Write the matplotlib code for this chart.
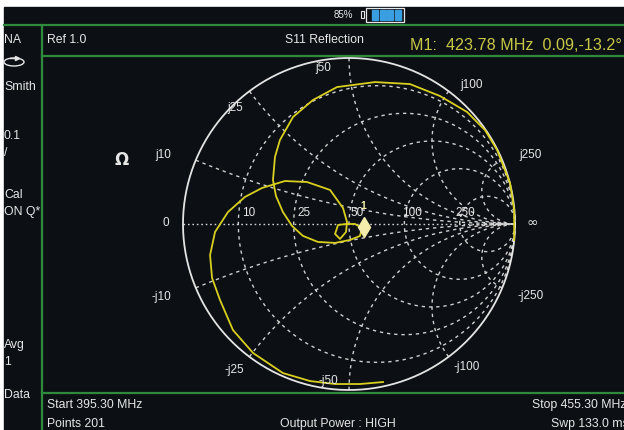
import numpy as np
import matplotlib
matplotlib.use("Agg")
import matplotlib.pyplot as plt
from matplotlib.patches import Rectangle, Ellipse

# ---------------- data ----------------
# S11 trace, reflection coefficient (real, imag) read from the screen
trace_re = [0.205, 0.066, -0.084, -0.235, -0.398, -0.578, -0.699, -0.777, -0.825, -0.837,
            -0.807, -0.729, -0.627, -0.524, -0.386, -0.253, -0.114, -0.036, -0.012,
            -0.018, -0.054, -0.084, -0.066, -0.018, 0.036, 0.078, 0.066, 0.006, -0.084,
            -0.187, -0.277, -0.343, -0.398, -0.440, -0.458, -0.446, -0.416, -0.337, -0.217,
            -0.072, 0.157, 0.367, 0.548, 0.711, 0.819, 0.892, 0.970, 0.995, 0.995]
trace_im = [-0.952, -0.964, -0.964, -0.946, -0.898, -0.777, -0.639, -0.458, -0.325, -0.187,
            -0.048, 0.072, 0.163, 0.217, 0.259, 0.253, 0.205, 0.096, 0.012,
            -0.048, -0.090, -0.060, -0.006, 0.000, 0.000, -0.024, -0.072, -0.096, -0.114,
            -0.108, -0.072, -0.012, 0.072, 0.169, 0.265, 0.404, 0.506, 0.645, 0.747,
            0.825, 0.855, 0.843, 0.771, 0.675, 0.566, 0.446, 0.247, 0.084, -0.096]
marker_mag = 0.09
marker_deg = -13.2
z0 = 50
grid_ohms = [10, 25, 50, 100, 250]
res_labels = ["10", "25", "50", "100", "250"]
react_labels_pos = ["j10", "j25", "j50", "j100", "j250"]
react_labels_neg = ["-j10", "-j25", "-j50", "-j100", "-j250"]
left_panel = ["NA", "Smith", "0.1", "/", "Cal", "ON Q*", "Avg", "1", "Data"]

# ---------------- style ----------------
BG = "#0c1015"
GREEN = "#2f8a3c"
TXT = "#e6e6e6"
GRID = "#cfcfcf"
YEL = "#d9cf1e"
M1C = "#c9c845"
FONT = ["Liberation Sans", "DejaVu Sans"]
plt.rcParams["font.family"] = FONT
FS = 8.8

W, H = 624, 430
fig = plt.figure(figsize=(W / 100, H / 100), dpi=100)
fig.patch.set_facecolor("white")

# pixel-coordinate background axes
bg = fig.add_axes([0, 0, 1, 1])
bg.set_xlim(0, W)
bg.set_ylim(H, 0)
bg.axis("off")
bg.add_patch(Rectangle((4, 7), W, H, color=BG, zorder=0))
# frame lines
bg.plot([4, W], [25, 25], color=GREEN, lw=1.6)
bg.plot([42, 42], [25, H], color=GREEN, lw=1.6)
bg.plot([42, W], [56, 56], color=GREEN, lw=1.6)
bg.plot([42, W], [393, 393], color=GREEN, lw=1.6)

# status bar
bg.text(353, 15, "85%", color=TXT, fontsize=7, ha="right", va="center")
bg.add_patch(Rectangle((361, 11), 3, 7, facecolor="none", edgecolor=TXT, lw=0.8))
bg.add_patch(Rectangle((366, 8), 38, 14, facecolor="none", edgecolor=TXT, lw=0.9))
for i in range(4):
    bg.add_patch(Rectangle((372 + i * 7.5, 10), 6, 10, color="#3a9fe0"))

# header
bg.text(47, 40, "Ref 1.0", color=TXT, fontsize=FS, ha="left", va="center")
bg.text(324, 40, "S11 Reflection", color=TXT, fontsize=FS, ha="center", va="center")
bg.text(622, 46, "M1:  423.78 MHz  0.09,-13.2°", color=M1C, fontsize=11.6,
        ha="right", va="center")

# left panel
left_y = [40, 87, 136, 153, 195, 212, 345, 362, 395]
for s, y in zip(left_panel, left_y):
    bg.text(4, y, s, color=TXT, fontsize=FS, ha="left", va="center")
bg.add_patch(Ellipse((14, 62), 20, 8, facecolor="none", edgecolor=TXT, lw=1.0))
bg.plot([10, 17], [58, 58], color=TXT, lw=1.0)
bg.plot([17], [58], marker=">", color=TXT, ms=3)

# footer
bg.text(47, 405, "Start 395.30 MHz", color=TXT, fontsize=FS, ha="left", va="center")
bg.text(47, 424, "Points 201", color=TXT, fontsize=FS, ha="left", va="center")
bg.text(338, 424, "Output Power : HIGH", color=TXT, fontsize=FS, ha="center", va="center")
bg.text(627, 405, "Stop 455.30 MHz", color=TXT, fontsize=FS, ha="right", va="center")
bg.text(629, 424, "Swp 133.0 ms", color=TXT, fontsize=FS, ha="right", va="center")
bg.text(122, 160, "Ω", color=TXT, fontsize=12, fontweight="bold", ha="center", va="center",
        family=["DejaVu Sans"])

# ---------------- Smith chart axes ----------------
CX, CY, R = 349, 224, 166
ax = fig.add_axes([0, 0, 1, 1])
ax.patch.set_alpha(0)
ax.set_xlim(-CX / R, (W - CX) / R)
ax.set_ylim((CY - H) / R, CY / R)
ax.axis("off")

dash = (0, (2.4, 2.8))
th = np.linspace(-np.pi / 2 + 1e-3, np.pi / 2 - 1e-3, 800)
for ohm in grid_ohms:
    r = ohm / z0
    z = r + 1j * np.tan(th) * 3
    g = (z - 1) / (z + 1)
    ax.plot(g.real, g.imag, color=GRID, lw=1.0, ls=dash)
    for s in (1, -1):
        x = s * ohm / z0
        rr = np.tan(np.linspace(0, np.pi / 2 - 1e-3, 800)) ** 1.5
        z = rr + 1j * x
        g = (z - 1) / (z + 1)
        ax.plot(g.real, g.imag, color=GRID, lw=1.0, ls=dash)
ax.plot([-1, 1], [0, 0], color=GRID, lw=1.0, ls=(0, (1.2, 2.0)))
t = np.linspace(0, 2 * np.pi, 600)
ax.plot(np.cos(t), np.sin(t), color="#e4e4e4", lw=1.3)

# grid labels
def px(x, y):
    return (x - CX) / R, (CY - y) / R

lab_kw = dict(color=TXT, fontsize=8.5, ha="center", va="center")
for s, (x, y) in zip(react_labels_pos, [(163, 155), (235, 108), (323, 68), (472, 85), (531, 155)]):
    ax.text(*px(x, y), s, **lab_kw)
for s, (x, y) in zip(react_labels_neg, [(161, 297), (234, 370), (328, 381), (467, 367), (531, 296)]):
    ax.text(*px(x, y), s, **lab_kw)
for s, (x, y) in zip(res_labels, [(249, 213), (304, 213), (357, 213), (412, 213), (465, 213)]):
    ax.text(*px(x, y), s, **lab_kw)
ax.text(*px(166, 223), "0", **lab_kw)
ax.text(*px(532, 223), "∞", color=TXT, fontsize=10, ha="center", va="center",
        family=["DejaVu Sans"])

# trace
ax.plot(trace_re, trace_im, color=YEL, lw=1.3, solid_joinstyle="round")

# marker
mg = marker_mag * np.exp(1j * np.deg2rad(marker_deg))
ax.plot(mg.real, mg.imag, marker="d", ms=10, color="#f3ecaa", mec="#f3ecaa")
ax.text(mg.real, mg.imag + 0.13, "1", color="#f3ecaa", fontsize=7.5, fontweight="bold",
        ha="center", va="center")

fig.savefig("out.png", dpi=100, facecolor=fig.get_facecolor())
